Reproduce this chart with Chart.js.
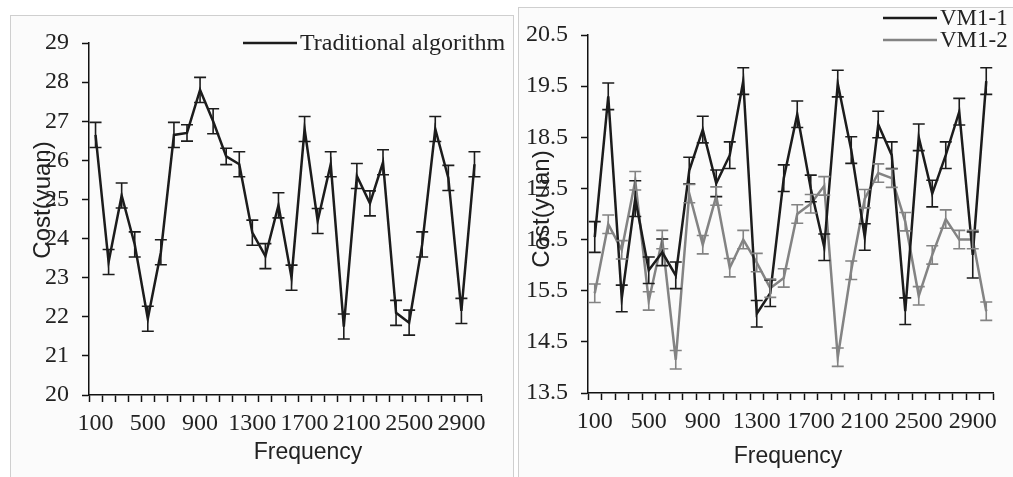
<!DOCTYPE html>
<html>
<head>
<meta charset="utf-8">
<script src="https://cdn.jsdelivr.net/npm/chart.js@4"></script>
<style>
  html, body { margin:0; padding:0; background:#fff; width:1013px; height:477px; overflow:hidden; }
  .frame { position:absolute; border:1px solid #cfcfcf; background:#fbfbfb; }
  canvas { position:absolute; top:0; }
</style>
</head>
<body>
<div class="frame" style="left:10px;top:15px;width:502px;height:470px;"></div>
<div class="frame" style="left:518px;top:7px;width:500px;height:480px;"></div>
<canvas id="left" width="515" height="477" style="left:0"></canvas>
<canvas id="right" width="498" height="477" style="left:515px"></canvas>
<script>
// Frequency categories
const freq = ['100','200','300','400','500','600','700','800','900','1000',
  '1100','1200','1300','1400','1500','1600','1700','1800','1900','2000',
  '2100','2200','2300','2400','2500','2600','2700','2800','2900','3000'];

// Left: traditional algorithm
const tradCost = [26.65, 23.4, 25.1, 23.85, 21.95, 23.65, 26.65, 26.7, 27.8, 27.0,
  26.1, 25.9, 24.15, 23.55, 24.85, 23.0, 26.8, 24.45, 25.9, 21.75,
  25.6, 24.9, 25.95, 22.1, 21.85, 23.85, 26.8, 25.55, 22.15, 25.9];
const tradErr = [0.32, 0.32, 0.32, 0.32, 0.32, 0.32, 0.32, 0.21, 0.32, 0.32,
  0.21, 0.32, 0.32, 0.32, 0.32, 0.32, 0.32, 0.32, 0.32, 0.32,
  0.32, 0.32, 0.32, 0.32, 0.32, 0.32, 0.32, 0.32, 0.32, 0.32];

// Right: VM1-1 / VM1-2
const vm1Cost = [16.55, 19.3, 15.35, 17.3, 15.9, 16.25, 15.8, 17.85, 18.65, 17.6,
  18.15, 19.6, 15.05, 15.45, 17.7, 18.95, 17.5, 16.35, 19.55, 18.25,
  16.55, 18.75, 18.15, 15.1, 18.5, 17.4, 18.15, 19.0, 16.2, 19.6];
const vm1Err = [0.3, 0.26, 0.26, 0.35, 0.26, 0.26, 0.26, 0.26, 0.26, 0.26,
  0.26, 0.26, 0.26, 0.26, 0.26, 0.26, 0.26, 0.26, 0.26, 0.26,
  0.26, 0.26, 0.26, 0.26, 0.26, 0.26, 0.26, 0.26, 0.45, 0.26];
const vm2Cost = [15.45, 16.8, 16.3, 17.65, 15.3, 16.5, 14.15, 17.4, 16.4, 17.35,
  15.95, 16.5, 16.05, 15.55, 15.75, 17.0, 17.2, 17.55, 14.2, 15.9,
  17.3, 17.8, 17.7, 16.85, 15.4, 16.2, 16.9, 16.5, 16.5, 15.1];
const vm2Err = [0.18, 0.18, 0.18, 0.18, 0.18, 0.18, 0.18, 0.18, 0.18, 0.18,
  0.18, 0.18, 0.18, 0.18, 0.18, 0.18, 0.18, 0.18, 0.18, 0.18,
  0.18, 0.18, 0.18, 0.18, 0.18, 0.18, 0.18, 0.18, 0.18, 0.18];

const BLACK = '#1c1c1c', GRAY = '#838383';
const SERIF = '"Liberation Serif", "Times New Roman", serif';
const SANS = '"Liberation Sans", Arial, sans-serif';

// error bars drawn from dataset.errors through the y scale
const errorBars = {
  id: 'errorBars',
  afterDatasetsDraw(chart){
    const ctx = chart.ctx, y = chart.scales.y;
    chart.data.datasets.forEach((ds, i) => {
      const meta = chart.getDatasetMeta(i);
      ctx.save();
      ctx.strokeStyle = ds.borderColor;
      ctx.lineWidth = 1.6;
      meta.data.forEach((pt, j) => {
        const v = ds.data[j], e = ds.errors[j];
        const top = y.getPixelForValue(v + e), bot = y.getPixelForValue(v - e);
        ctx.beginPath();
        ctx.moveTo(pt.x, top); ctx.lineTo(pt.x, bot);
        ctx.moveTo(pt.x - 6, top); ctx.lineTo(pt.x + 6, top);
        ctx.moveTo(pt.x - 6, bot); ctx.lineTo(pt.x + 6, bot);
        ctx.stroke();
      });
      ctx.restore();
    });
  }
};

// titles + legend with fixed placement like the original figure
function decor(opts){
  return {
    id: 'decor',
    afterDraw(chart){
      const ctx = chart.ctx;
      ctx.save();
      ctx.fillStyle = '#222';
      ctx.font = '23px ' + SANS;
      ctx.textAlign = 'center'; ctx.textBaseline = 'middle';
      ctx.fillText('Frequency', opts.xTitle[0], opts.xTitle[1]);
      ctx.translate(opts.yTitle[0], opts.yTitle[1]);
      ctx.rotate(-Math.PI/2);
      ctx.font = '24px ' + SANS;
      ctx.fillText('Cost(yuan)', 0, 0);
      ctx.restore();

      ctx.save();
      ctx.font = opts.legendSize + 'px ' + SERIF;
      ctx.textAlign = 'left'; ctx.textBaseline = 'middle';
      chart.data.datasets.forEach((ds, i) => {
        const [lx, ly] = opts.legend;
        const yy = ly + i*22;
        ctx.strokeStyle = ds.borderColor; ctx.lineWidth = 2.5;
        ctx.beginPath(); ctx.moveTo(lx, yy); ctx.lineTo(lx + 54, yy); ctx.stroke();
        ctx.fillStyle = '#222';
        ctx.fillText(ds.label, lx + 57, yy + 1);
      });
      ctx.restore();
    }
  };
}

function makeChart(id, datasets, yMin, yMax, fmt, axisW, pad, deco){
  return new Chart(document.getElementById(id), {
    type: 'line',
    data: { labels: freq, datasets },
    options: {
      responsive: false,
      animation: false,
      layout: { padding: pad },
      plugins: { legend: { display: false }, tooltip: { enabled: false } },
      elements: { point: { radius: 0 }, line: { borderWidth: 2.5, tension: 0 } },
      scales: {
        x: {
          offset: true,
          afterFit(s){ s.height = 60; },
          border: { color: '#111', width: 1.5 },
          grid: { offset: true, drawOnChartArea: false, drawTicks: true, tickLength: 7, tickColor: '#111', tickWidth: 1.5 },
          ticks: {
            autoSkip: false, maxRotation: 0, minRotation: 0, padding: 7,
            color: '#222', font: { family: SERIF, size: 24 },
            callback(v, i){ return i % 4 === 0 ? freq[i] : ''; }
          }
        },
        y: {
          min: yMin, max: yMax,
          afterFit(s){ s.width = axisW; },
          border: { color: '#111', width: 1.5 },
          grid: { drawOnChartArea: false, drawTicks: true, tickLength: 7, tickColor: '#111', tickWidth: 1.5 },
          ticks: { stepSize: 1, padding: 13, color: '#222', font: { family: SERIF, size: 24 }, callback: fmt }
        }
      }
    },
    plugins: [errorBars, decor(deco)]
  });
}

makeChart('left',
  [{ label: 'Traditional algorithm', data: tradCost, errors: tradErr, borderColor: BLACK }],
  20, 29, v => v.toFixed(0), 89, { left: 0, top: 43, right: 34, bottom: 22 },
  { xTitle: [308, 453], yTitle: [43, 200], legend: [243, 43], legendSize: 24 });

makeChart('right',
  [{ label: 'VM1-1', data: vm1Cost, errors: vm1Err, borderColor: BLACK },
   { label: 'VM1-2', data: vm2Cost, errors: vm2Err, borderColor: GRAY }],
  13.5, 20.5, v => v.toFixed(1), 73, { left: 0, top: 35, right: 20, bottom: 24 },
  { xTitle: [273, 457], yTitle: [27, 209], legend: [368, 18], legendSize: 23 });
</script>
</body>
</html>
